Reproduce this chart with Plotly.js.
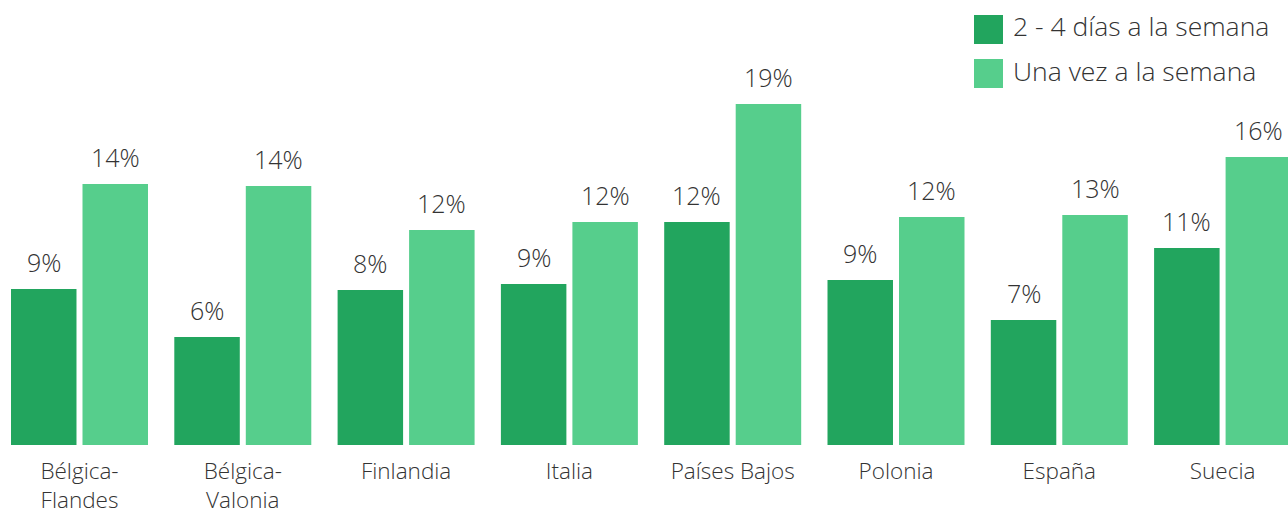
<!DOCTYPE html>
<html><head><meta charset="utf-8">
<script src="https://cdn.plot.ly/plotly-3.0.1.min.js"></script>
<style>html,body{margin:0;padding:0;background:#fff}#chart{width:1288px;height:517px}</style>
</head><body><div id="chart"></div>
<script>
const categories = ["Bélgica-<br>Flandes","Bélgica-<br>Valonia","Finlandia","Italia","Países Bajos","Polonia","España","Suecia"];
const seriesNames = ["2 - 4 días a la semana","Una vez a la semana"];
const valuesFrequent = [8.52,5.90,8.47,8.80,12.19,9.02,6.83,10.77];
const valuesWeekly = [14.26,14.15,11.75,12.19,18.63,12.46,12.57,15.74];
const labelsFrequent = ["9%","6%","8%","9%","12%","9%","7%","11%"];
const labelsWeekly = ["14%","14%","12%","12%","19%","12%","13%","16%"];
const seriesColors = ["#22a55e","#56ce8c"];

const FONT = '"Open Sans", "Noto Sans", sans-serif';
const TXT = '#333333';
const W8 = 300;

const traces = [
  {type:'bar', name:seriesNames[0], x:categories, y:valuesFrequent,
   marker:{color:seriesColors[0], line:{width:0}}, hoverinfo:'skip', showlegend:false},
  {type:'bar', name:seriesNames[1], x:categories, y:valuesWeekly,
   marker:{color:seriesColors[1], line:{width:0}}, hoverinfo:'skip', showlegend:false}
];

const annotations = [];
const SHIFT = 35.75;
categories.forEach((c,i)=>{
  annotations.push({x:c, y:valuesFrequent[i], xref:'x', yref:'y', text:labelsFrequent[i],
    showarrow:false, xshift:-SHIFT, yshift:8, yanchor:'bottom', xanchor:'center',
    font:{family:FONT,size:25,color:TXT,weight:W8}});
  annotations.push({x:c, y:valuesWeekly[i], xref:'x', yref:'y', text:labelsWeekly[i],
    showarrow:false, xshift:SHIFT, yshift:8, yanchor:'bottom', xanchor:'center',
    font:{family:FONT,size:25,color:TXT,weight:W8}});
});

// custom legend (large square swatches)
const W = 1288, H = 445;
const shapes = [];
const legendRows = [29.5, 73.5];
seriesNames.forEach((n,k)=>{
  const yc = legendRows[k];
  shapes.push({type:'rect', xref:'paper', yref:'paper',
    x0:974/W, x1:1003/W, y0:1-(yc+14.5)/H, y1:1-(yc-14.5)/H,
    fillcolor:seriesColors[k], line:{width:0}});
  annotations.push({xref:'paper', yref:'paper', x:1011/W, y:1-(yc-3)/H, text:n,
    showarrow:false, xanchor:'left', yanchor:'middle',
    font:{family:FONT,size:26.5,color:TXT,weight:W8}});
});

const layout = {
  width:1288, height:517,
  margin:{l:0,r:0,t:0,b:72,pad:0},
  paper_bgcolor:'#ffffff', plot_bgcolor:'#ffffff',
  font:{family:FONT, color:TXT},
  barmode:'group', bargap:0.1243, bargroupgap:0.084,
  showlegend:false,
  xaxis:{type:'category', range:[-0.4868, 7.4005], showgrid:false, zeroline:false,
    showline:false, ticks:'', ticklabelstandoff:10,
    tickfont:{family:FONT,size:22.5,color:TXT,weight:W8}, fixedrange:true},
  yaxis:{range:[0, 445/18.3], visible:false, fixedrange:true},
  annotations:annotations, shapes:shapes
};
Plotly.newPlot('chart', traces, layout, {displayModeBar:false, staticPlot:true});
</script></body></html>
